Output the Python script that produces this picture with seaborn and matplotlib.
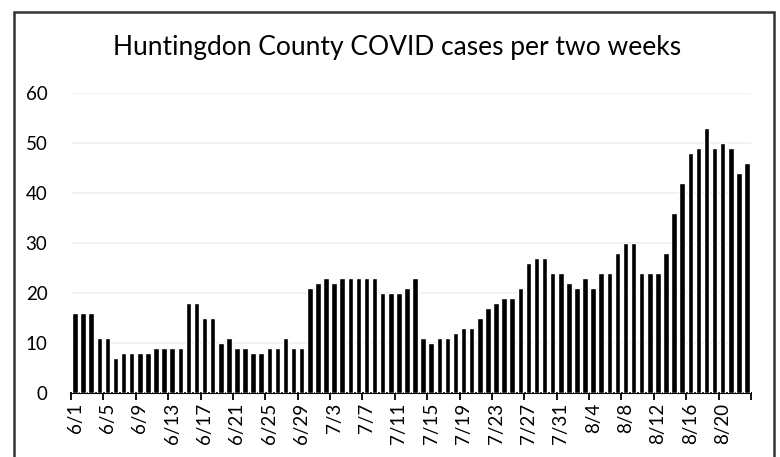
import matplotlib
matplotlib.use("Agg")
import matplotlib.pyplot as plt
import seaborn as sns
import pandas as pd
import numpy as np
from matplotlib.patches import Rectangle
from matplotlib.ticker import FixedLocator

# ---- data ----
start_month_days = [("6", 1, 30), ("7", 1, 31), ("8", 1, 23)]
dates = []
for m, d0, d1 in start_month_days:
    for d in range(d0, d1 + 1):
        dates.append(f"{m}/{d}")

cases = [16, 16, 16, 11, 11, 7, 8, 8, 8, 8, 9, 9, 9, 9, 18, 18, 15, 15, 10, 11,
         9, 9, 8, 8, 9, 9, 11, 9, 9,
         21, 22, 23, 22, 23, 23, 23, 23, 23, 20, 20, 20, 21, 23, 11, 10,
         11, 11, 12, 13, 13, 15, 17, 18, 19, 19, 21, 26, 27, 27,
         24, 24, 22, 21, 23, 21, 24, 24, 28, 30, 30, 24, 24, 24, 28, 36, 42,
         48, 49, 53, 49, 50, 49, 44, 46]

y_ticks = [0, 10, 20, 30, 40, 50, 60]
title = "Huntingdon County COVID cases per two weeks"

df = pd.DataFrame({"date": dates, "cases": cases})

sns.set_theme(style="white")
plt.rcParams["font.family"] = ["Lato", "DejaVu Sans"]

fig = plt.figure(figsize=(7.8, 4.57), dpi=100)
ax = fig.add_axes([71 / 780, 1 - 393 / 457, 680 / 780, 300 / 457])

sns.barplot(data=df, x="date", y="cases", color="black", width=0.68,
            saturation=1, ax=ax, zorder=3)

n = len(dates)
ax.set_xlim(-0.5, n - 0.5)
ax.set_ylim(0, 60)
ax.set_yticks(y_ticks)
ax.set_yticklabels([str(t) for t in y_ticks], fontsize=13.5, color="black")
ax.tick_params(axis="y", length=0, pad=17)
ax.yaxis.grid(True, color="#f0f0f0", linewidth=1.2, zorder=0)
ax.xaxis.grid(False)

# labels every 4th category, tick marks at category boundaries
label_pos = list(range(0, n, 4))
ax.set_xticks(label_pos)
ax.set_xticklabels([dates[i] for i in label_pos], rotation=90, fontsize=13.5,
                   color="black")
ax.tick_params(axis="x", which="major", length=0, pad=7)
bounds = [p - 0.5 for p in label_pos] + [n - 0.5]
ax.xaxis.set_minor_locator(FixedLocator(bounds))
ax.tick_params(axis="x", which="minor", length=5, width=1.3, color="black",
               direction="out", bottom=True)

for s in ["top", "right", "left"]:
    ax.spines[s].set_visible(False)
ax.spines["bottom"].set_color("black")
ax.spines["bottom"].set_linewidth(1.5)
ax.set_xlabel("")
ax.set_ylabel("")

fig.text(397 / 780, 1 - 48 / 457, title, ha="center", va="center",
         fontsize=19, color="black")

# outer chart border
fig.patches.append(Rectangle((14 / 780, -0.05), 760 / 780, 1 - 12 / 457 + 0.05,
                             transform=fig.transFigure, fill=False,
                             edgecolor="#333333", linewidth=1.8))

fig.savefig("out.png", dpi=100)
